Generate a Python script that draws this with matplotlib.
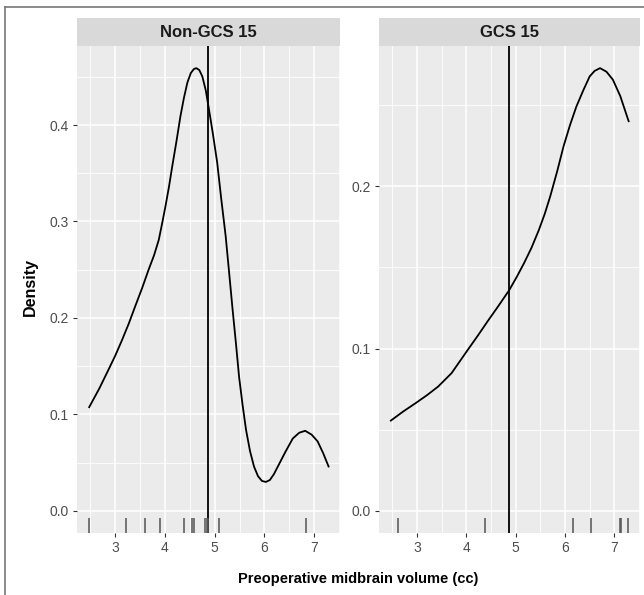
import matplotlib.pyplot as plt
from matplotlib.lines import Line2D
from matplotlib.ticker import MultipleLocator

plt.rcParams["font.family"] = ["Liberation Sans", "DejaVu Sans"]

# density curve, Non-GCS 15 panel
non_x = [2.475, 2.68, 2.86, 3.00, 3.135, 3.27, 3.40, 3.54, 3.67, 3.78, 3.875, 3.95, 4.01,
         4.08, 4.145, 4.23, 4.31, 4.38, 4.45, 4.52, 4.58, 4.63, 4.69, 4.75, 4.82, 4.885,
         4.96, 5.05, 5.13, 5.22, 5.29, 5.36, 5.43, 5.49, 5.56, 5.63, 5.71, 5.79, 5.87,
         5.95, 6.03, 6.11, 6.19, 6.27, 6.42, 6.57, 6.70, 6.82, 6.95, 7.07, 7.18, 7.29]
non_y = [0.1075, 0.127, 0.146, 0.161, 0.177, 0.194, 0.212, 0.231, 0.250, 0.265, 0.281,
         0.300, 0.316, 0.336, 0.357, 0.383, 0.409, 0.428, 0.444, 0.454, 0.458, 0.459,
         0.457, 0.4505, 0.436, 0.416, 0.392, 0.361, 0.324, 0.285, 0.247, 0.2085, 0.172,
         0.139, 0.110, 0.084, 0.062, 0.046, 0.036, 0.031, 0.030, 0.032, 0.038, 0.046,
         0.061, 0.075, 0.081, 0.083, 0.079, 0.072, 0.060, 0.046]

# GCS 15 panel
gcs_x = [2.47, 2.72, 2.97, 3.20, 3.43, 3.70, 4.03, 4.23, 4.43, 4.65, 4.87, 5.02, 5.17,
         5.32, 5.47, 5.59, 5.70, 5.84, 5.97, 6.10, 6.23, 6.37, 6.50, 6.60, 6.71, 6.84,
         6.97, 7.12, 7.29]
gcs_y = [0.0556, 0.0612, 0.0663, 0.0712, 0.0766, 0.0848, 0.0992, 0.1078, 0.1167, 0.1262,
         0.136, 0.144, 0.1526, 0.162, 0.173, 0.183, 0.1937, 0.209, 0.2245, 0.2375, 0.249,
         0.259, 0.2676, 0.271, 0.2727, 0.2705, 0.2656, 0.2555, 0.240]

# rug values
non_rug = [2.47, 3.21, 3.60, 3.90, 4.39, 4.54, 4.58, 4.81, 4.84, 4.87, 5.09, 6.84]
gcs_rug = [2.61, 4.38, 6.17, 6.52, 7.11, 7.13, 7.27]

cutoff = 4.87
x_ticks = [3, 4, 5, 6, 7]

panels = [
    ("Non-GCS 15", non_x, non_y, non_rug, [0.0, 0.1, 0.2, 0.3, 0.4], 0.459),
    ("GCS 15", gcs_x, gcs_y, gcs_rug, [0.0, 0.1, 0.2], 0.2727),
]

W, H = 644, 595
fig = plt.figure(figsize=(W / 100, H / 100), dpi=100)

lefts = [77, 379]
rights = [340, 640]
top, bottom, strip_top = 46, 533, 18

for (title, xs, ys, rug, yt, ymax), l, r in zip(panels, lefts, rights):
    ax = fig.add_axes([l / W, 1 - bottom / H, (r - l) / W, (bottom - top) / H])
    ax.set_facecolor("#EBEBEB")
    for s in ax.spines.values():
        s.set_visible(False)

    ax.set_xlim(2.23, 7.52)
    ax.set_ylim(-0.05 * ymax, ymax * 1.05)
    ax.set_xticks(x_ticks)
    ax.set_yticks(yt)
    ax.set_yticklabels([f"{v:.1f}" for v in yt])
    ax.xaxis.set_minor_locator(MultipleLocator(0.5))
    ax.yaxis.set_minor_locator(MultipleLocator(0.05))
    ax.grid(which="major", color="white", lw=1.15)
    ax.grid(which="minor", color="white", lw=0.6)
    ax.set_axisbelow(True)
    ax.tick_params(which="major", length=2.7, width=0.8, color="#333333",
                   labelsize=10, labelcolor="#4D4D4D", pad=3)
    ax.tick_params(which="minor", length=0)

    ax.plot(xs, ys, color="black", lw=1.3, solid_joinstyle="round")
    ax.axvline(cutoff, color="black", lw=1.3)
    ax.vlines(rug, 0, 0.03, transform=ax.get_xaxis_transform(),
              color="#555555", alpha=0.8, lw=1.4)

    sax = fig.add_axes([l / W, 1 - top / H, (r - l) / W, (top - strip_top) / H])
    sax.set_facecolor("#D9D9D9")
    sax.set_xticks([])
    sax.set_yticks([])
    for s in sax.spines.values():
        s.set_visible(False)
    sax.text(0.5, 0.48, title, ha="center", va="center", fontsize=12,
             fontweight="bold", color="#1A1A1A", transform=sax.transAxes)

fig.text(30 / W, 1 - 287 / H, "Density", rotation=90, ha="center", va="center",
         fontsize=11.5, fontweight="bold")
fig.text(358 / W, 1 - 579 / H, "Preoperative midbrain volume (cc)", ha="center",
         va="center", fontsize=10.5, fontweight="bold")

# thin frame on top and left, as in the scan
fig.add_artist(Line2D([5 / W, 5 / W], [0, 1 - 7 / H], color="#777777", lw=1.2))
fig.add_artist(Line2D([5 / W, 1], [1 - 7 / H, 1 - 7 / H], color="#777777", lw=1.2))

fig.savefig("out.png", dpi=100)
